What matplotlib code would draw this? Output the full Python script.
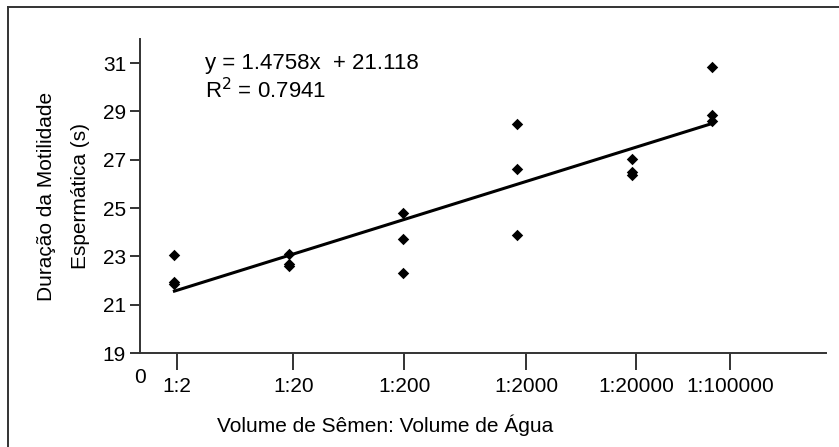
import matplotlib
matplotlib.use('Agg')
import matplotlib.pyplot as plt
from matplotlib.lines import Line2D
import numpy as np

plt.rcParams['font.family'] = ['Liberation Sans', 'DejaVu Sans']

# diluicoes (x em log10 da diluicao)
diluicoes = ['1:2', '1:20', '1:200', '1:2000', '1:20000', '1:100000']
x_log = [0.301, 1.301, 2.301, 3.301, 4.301, 5.0]
# tres repeticoes por diluicao (s)
rep1 = [23.05, 23.10, 24.80, 28.48, 27.03, 30.85]
rep2 = [21.92, 22.70, 23.70, 26.60, 26.50, 28.85]
rep3 = [21.86, 22.60, 22.30, 23.88, 26.36, 28.60]
# linha de tendencia
slope = 1.4758
intercept = 21.118
r2 = 0.7941

tick_pos = [0.32, 1.34, 2.31, 3.38, 4.34, 5.16]
fs = 15

fig = plt.figure(figsize=(8.39, 4.47), dpi=100)
ax = fig.add_axes([140 / 839, 1 - 353 / 447, (826 - 140) / 839, (353 - 39) / 447])

for rep in (rep1, rep2, rep3):
    ax.scatter(x_log, rep, marker='D', s=34, color='black', zorder=3, linewidths=0)

xs = np.array([x_log[0], x_log[-1]])
ax.plot(xs, slope * xs + intercept, color='black', lw=2.2, zorder=2)

ax.set_xlim(0, 6)
ax.set_ylim(19, 32)
ax.set_yticks([19, 21, 23, 25, 27, 29, 31])
ax.set_xticks(tick_pos)
ax.set_xticklabels(diluicoes)

for s in ('top', 'right'):
    ax.spines[s].set_visible(False)
for s in ('left', 'bottom'):
    ax.spines[s].set_color('#333333')
    ax.spines[s].set_linewidth(1.4)

ax.tick_params(axis='x', length=12, width=1.4, color='#333333', labelsize=fs, pad=5)
ax.tick_params(axis='y', length=7, width=1.4, color='#333333', labelsize=fs, pad=3)

ax.text(0, 18.0, '0', ha='center', va='center', fontsize=fs)

ax.text(0.57, 31.0, 'y = %.4fx  + %.3f' % (slope, intercept), fontsize=16, va='center')
ax.text(0.57, 29.85, 'R$^2$ = %.4f' % r2, fontsize=16, va='center')

fig.text(385 / 839, 1 - 425 / 447, 'Volume de Sêmen: Volume de Água',
         ha='center', va='center', fontsize=fs)
fig.text(47 / 839, 1 - 196 / 447, 'Duração da Motilidade', rotation=90,
         ha='center', va='center', fontsize=fs)
fig.text(80 / 839, 1 - 196 / 447, 'Espermática (s)', rotation=90,
         ha='center', va='center', fontsize=fs)

# moldura do grafico
fig.add_artist(Line2D([8 / 839, 8 / 839], [0, 1 - 7 / 447], transform=fig.transFigure,
                      color='#333333', lw=1.4))
fig.add_artist(Line2D([8 / 839, 1], [1 - 7 / 447, 1 - 7 / 447], transform=fig.transFigure,
                      color='#333333', lw=1.4))

fig.savefig('out.png', dpi=100)
